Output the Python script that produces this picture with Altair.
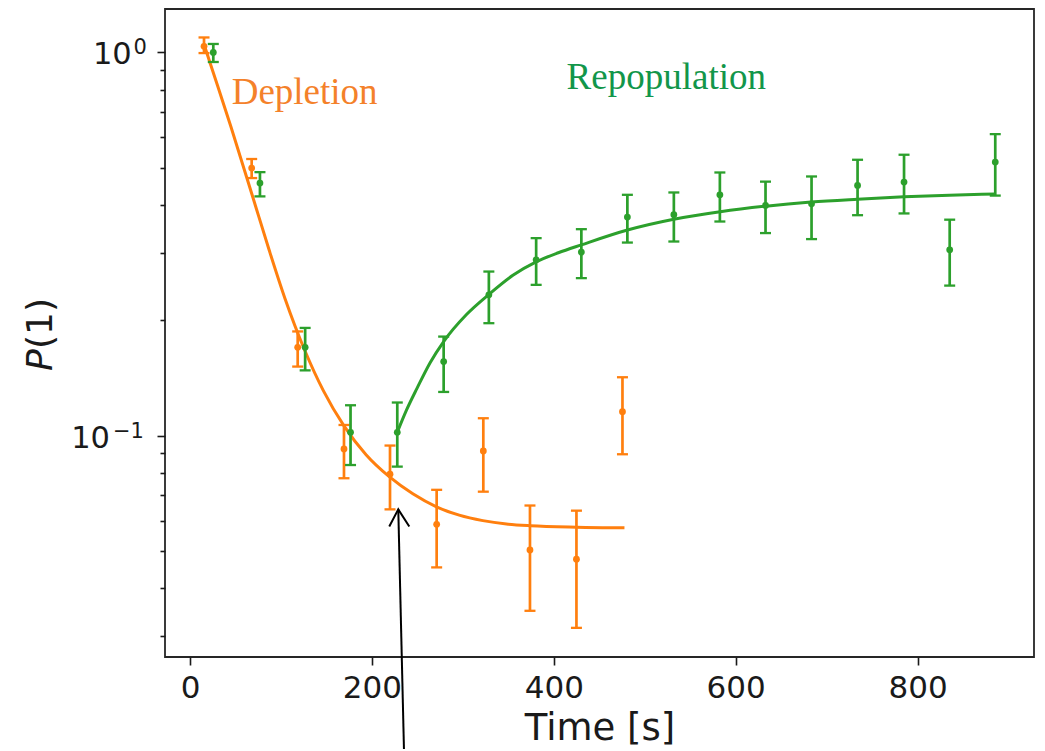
import altair as alt
import pandas as pd

# ---- data ----
dep_t = [15.4, 67.8, 118.4, 169.3, 219.9, 271.2, 322.5, 373.8, 424.9, 475.5]
dep_p = [1.037, 0.499, 0.170, 0.0923, 0.0793, 0.0587, 0.0912, 0.0503, 0.0476, 0.1155]
dep_lo = [0.996, 0.470, 0.1514, 0.0774, 0.0642, 0.0453, 0.0714, 0.0349, 0.0315, 0.0894]
dep_hi = [1.094, 0.527, 0.187, 0.1066, 0.0942, 0.0722, 0.111, 0.0657, 0.0637, 0.142]

rep_t = [25.6, 76.9, 126.6, 176.5, 227.9, 278.9, 328.6, 380.6, 430.3, 480.9,
         532.0, 582.6, 632.8, 683.4, 734.0, 785.1, 835.3, 885.4]
rep_p = [1.0, 0.456, 0.170, 0.102, 0.102, 0.156, 0.233, 0.2875, 0.3012, 0.3717,
         0.377, 0.425, 0.3987, 0.4027, 0.4496, 0.4587, 0.3054, 0.5173]
rep_lo = [0.944, 0.421, 0.148, 0.0838, 0.083, 0.130, 0.1965, 0.2474, 0.2576, 0.319,
          0.321, 0.362, 0.3377, 0.3257, 0.376, 0.380, 0.2463, 0.423]
rep_hi = [1.052, 0.487, 0.191, 0.120, 0.122, 0.1813, 0.268, 0.3276, 0.3457, 0.425,
          0.431, 0.486, 0.460, 0.4745, 0.5246, 0.5407, 0.366, 0.612]

dep_fit_t = [15.4, 22, 45, 69.6, 87, 104.4, 126.6, 146.6, 169.3, 193.8, 219.4,
             245, 271, 296, 322, 348, 374, 425, 477.7]
dep_fit_p = [1.05, 0.94, 0.64, 0.415, 0.305, 0.228, 0.166, 0.131, 0.106, 0.089,
             0.078, 0.0705, 0.0652, 0.0620, 0.0600, 0.0588, 0.0582, 0.0577, 0.0575]

rep_fit_t = [227.9, 238, 249.7, 264, 278.9, 304, 329, 355, 380.6, 405, 430.3, 481,
             532, 583, 633, 683, 734, 785, 835, 885.4]
rep_fit_p = [0.102, 0.1165, 0.133, 0.155, 0.176, 0.207, 0.234, 0.262, 0.284, 0.300,
             0.3146, 0.344, 0.367, 0.384, 0.397, 0.407, 0.414, 0.420, 0.424, 0.427]

x_ticks = [0, 200, 400, 600, 800]
y_ticks = [0.03, 0.04, 0.05, 0.06, 0.07, 0.08, 0.09, 0.1,
           0.2, 0.3, 0.4, 0.5, 0.6, 0.7, 0.8, 0.9, 1.0]
y_major = [1.0, 0.1]
y_major_exp = ["0", "−1"]

labels_text = ["Depletion", "Repopulation"]
labels_t = [45.8, 414.1]
labels_p = [0.733, 0.802]

arrow_shaft_t = [235.3, 229.0]
arrow_shaft_p = [0.01502, 0.0642]
arrow_head_t = [219.1, 229.0, 241.1]
arrow_head_p = [0.0579, 0.0642, 0.0579]

X_DOMAIN = [-27.5, 928]
Y_DOMAIN = [0.02644, 1.298]

ORANGE = "#ff7f0e"
GREEN = "#2ca02c"
TEXT_ORANGE = "#f4812a"
TEXT_GREEN = "#12964a"
INK = "#1a1a1a"

x_scale = alt.Scale(domain=X_DOMAIN, nice=False, zero=False)
y_scale = alt.Scale(type="log", domain=Y_DOMAIN, nice=False)

x_axis = alt.Axis(
    values=x_ticks, title="Time [s]", titleFont="DejaVu Sans", titleFontSize=37,
    titleFontWeight="normal", titleColor=INK, titleX=434.5, titleY=82,
    titleBaseline="alphabetic", labelFont="DejaVu Sans", labelFontSize=31,
    labelColor=INK, labelPadding=8, tickSize=8, tickWidth=1.6, tickColor=INK,
    grid=False, domain=False, labelFlush=False,
)
y_axis = alt.Axis(
    values=y_ticks, title=None, grid=False, domain=False, labels=False,
    tickSize=alt.condition("datum.value == 1 || datum.value == 0.1", alt.value(8), alt.value(5)),
    tickWidth=1.6, tickColor=INK,
)


def X(field="t"):
    return alt.X(field + ":Q", scale=x_scale, axis=x_axis)


def Y(field):
    return alt.Y(field + ":Q", scale=y_scale, axis=y_axis)


def series(t, p, lo, hi, ft, fp, color):
    pts = pd.DataFrame({"t": t, "p": p, "lo": lo, "hi": hi})
    fit = pd.DataFrame({"t": ft, "p": fp})
    bars = alt.Chart(pts).mark_rule(color=color, strokeWidth=2.7).encode(
        x=X(), y=Y("lo"), y2="hi:Q")
    caps = []
    for f in ("lo", "hi"):
        caps.append(alt.Chart(pts).mark_rule(
            color=color, strokeWidth=2.3, xOffset=-5.5, x2Offset=5.5).encode(
            x=X(), x2="t:Q", y=Y(f)))
    dots = alt.Chart(pts).mark_circle(color=color, size=46, opacity=1).encode(
        x=X(), y=Y("p"))
    line = alt.Chart(fit).mark_line(color=color, strokeWidth=3, interpolate="monotone").encode(
        x=X(), y=Y("p"))
    return [bars] + caps + [dots, line]


layers = []
layers += series(dep_t, dep_p, dep_lo, dep_hi, dep_fit_t, dep_fit_p, ORANGE)
layers += series(rep_t, rep_p, rep_lo, rep_hi, rep_fit_t, rep_fit_p, GREEN)

lab = pd.DataFrame({"text": labels_text, "t": labels_t, "p": labels_p,
                    "c": [TEXT_ORANGE, TEXT_GREEN]})
layers.append(alt.Chart(lab).mark_text(
    font="Liberation Serif", fontSize=37, align="left", baseline="alphabetic").encode(
    x=X(), y=Y("p"), text="text:N", color=alt.Color("c:N", scale=None)))

shaft = pd.DataFrame({"t": arrow_shaft_t, "p": arrow_shaft_p, "o": [0, 1]})
head = pd.DataFrame({"t": arrow_head_t, "p": arrow_head_p, "o": [0, 1, 2]})
for df in (shaft, head):
    layers.append(alt.Chart(df).mark_line(color="black", strokeWidth=2, clip=False).encode(
        x=X(), y=Y("p"), order="o:Q"))

# y tick labels 10^0 and 10^-1 with real superscripts
for v, e, xb, xs in [(y_major[0], y_major_exp[0], -33.3, -31.5),
                     (y_major[1], y_major_exp[1], -55, -52)]:
    d = pd.DataFrame({"v": [v], "b": ["10"], "e": [e]})
    layers.append(alt.Chart(d).mark_text(
        font="DejaVu Sans", fontSize=30.5, align="right", baseline="alphabetic",
        dy=12, color=INK).encode(x=alt.value(xb), y=Y("v"), text="b:N"))
    layers.append(alt.Chart(d).mark_text(
        font="DejaVu Sans", fontSize=21, align="left", baseline="alphabetic",
        dy=2, color=INK).encode(x=alt.value(xs), y=Y("v"), text="e:N"))

# y-axis title: italic P followed by upright (1)
ytitle = pd.DataFrame({"s": ["P"]})
ytitle2 = pd.DataFrame({"s": ["(1)"]})
layers.append(alt.Chart(ytitle).mark_text(
    font="DejaVu Sans", fontSize=36, fontStyle="italic", angle=270, align="left",
    baseline="alphabetic", color=INK).encode(
    x=alt.value(-113), y=alt.value(362), text="s:N"))
layers.append(alt.Chart(ytitle2).mark_text(
    font="DejaVu Sans", fontSize=36, angle=270, align="left",
    baseline="alphabetic", color=INK).encode(
    x=alt.value(-113), y=alt.value(340), text="s:N"))

chart = alt.layer(*layers).properties(
    width=869, height=648,
    autosize=alt.AutoSizeParams(type="none"),
    padding={"left": 157, "top": 1, "right": 3, "bottom": 92},
    background="white",
).configure_view(stroke="#262626", strokeWidth=1.8)

chart.save("out.html", embed_options={"renderer": "svg", "actions": False})
